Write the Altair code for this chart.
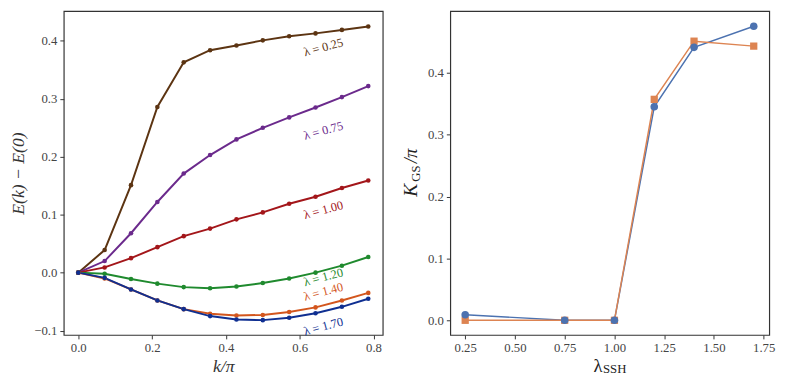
import altair as alt
import pandas as pd

# ---------------- data ----------------
k_vals = [0.0, 1/14, 2/14, 3/14, 4/14, 5/14, 6/14, 7/14, 8/14, 9/14, 10/14, 11/14]
series_names = ["λ = 0.25", "λ = 0.75", "λ = 1.00", "λ = 1.20", "λ = 1.40", "λ = 1.70"]
e_025 = [0.0, 0.039, 0.151, 0.286, 0.363, 0.384, 0.392, 0.401, 0.408, 0.413, 0.419, 0.425]
e_075 = [0.0, 0.020, 0.068, 0.122, 0.171, 0.203, 0.230, 0.250, 0.268, 0.285, 0.303, 0.322]
e_100 = [0.0, 0.009, 0.025, 0.044, 0.063, 0.076, 0.092, 0.104, 0.119, 0.131, 0.146, 0.159]
e_120 = [0.0, -0.002, -0.011, -0.019, -0.025, -0.027, -0.024, -0.018, -0.010, 0.000, 0.012, 0.027]
e_140 = [0.0, -0.010, -0.029, -0.048, -0.063, -0.071, -0.074, -0.073, -0.068, -0.060, -0.048, -0.035]
e_170 = [0.0, -0.009, -0.029, -0.048, -0.063, -0.075, -0.081, -0.082, -0.078, -0.070, -0.059, -0.045]
series_vals = [e_025, e_075, e_100, e_120, e_140, e_170]
series_colors = ["#5c3412", "#6b2a8c", "#a3161a", "#1f8a2e", "#d3561d", "#0f2f91"]
label_x = [0.664, 0.664, 0.664, 0.664, 0.664, 0.664]
label_y = [0.389, 0.245, 0.108, -0.008, -0.033, -0.093]

lam_ssh = [0.25, 0.75, 1.00, 1.20, 1.40, 1.70]
kgs_a = [0.009, 0.0, 0.0, 0.345, 0.441, 0.475]
kgs_b = [0.0, 0.0, 0.0, 0.357, 0.451, 0.443]
right_names = ["a", "b"]
right_colors = ["#4c72b0", "#dd8452"]

FONT = "Liberation Serif"

# ---------------- left panel ----------------
rows = []
for name, vals in zip(series_names, series_vals):
    for kk, v in zip(k_vals, vals):
        rows.append({"k": kk, "E": v, "s": name})
left_df = pd.DataFrame(rows)
lab_df = pd.DataFrame({"s": series_names, "x": label_x, "y": label_y})

cscale = alt.Scale(domain=series_names, range=series_colors)
xl = alt.X("k:Q", scale=alt.Scale(domain=[-0.0393, 0.8250], nice=False, zero=False),
           axis=alt.Axis(values=[0.0, 0.2, 0.4, 0.6, 0.8], format=".1f", title="k/π",
                         titleFontStyle="italic", titleFontSize=18, titlePadding=3))
yl = alt.Y("E:Q", scale=alt.Scale(domain=[-0.1076, 0.4515], nice=False, zero=False),
           axis=alt.Axis(values=[-0.1, 0.0, 0.1, 0.2, 0.3, 0.4], format=".1f", title="E(k) − E(0)",
                         titleFontStyle="italic", titleFontSize=18, titlePadding=7))

left_lines = alt.Chart(left_df).mark_line(strokeWidth=2).encode(
    x=xl, y=yl, color=alt.Color("s:N", scale=cscale, legend=None), detail="s:N")
left_pts = alt.Chart(left_df).mark_point(filled=True, size=22, opacity=1).encode(
    x="k:Q", y="E:Q", color=alt.Color("s:N", scale=cscale, legend=None))
left_labels = alt.Chart(lab_df).mark_text(font=FONT, fontSize=12.5, angle=345,
                                          align="center", baseline="middle").encode(
    x="x:Q", y="y:Q", text="s:N", color=alt.Color("s:N", scale=cscale, legend=None))

left = alt.layer(left_lines, left_pts, left_labels).properties(width=326, height=331)

# ---------------- right panel ----------------
rrows = []
for nm, vals in zip(right_names, [kgs_a, kgs_b]):
    for l, v in zip(lam_ssh, vals):
        rrows.append({"lam": l, "K": v, "g": nm})
right_df = pd.DataFrame(rrows)
rscale = alt.Scale(domain=right_names, range=right_colors)
xr = alt.X("lam:Q", scale=alt.Scale(domain=[0.175, 1.778], nice=False, zero=False),
           axis=alt.Axis(values=[0.25, 0.5, 0.75, 1.0, 1.25, 1.5, 1.75], format=".2f", title=None))
yr = alt.Y("K:Q", scale=alt.Scale(domain=[-0.0237, 0.4996], nice=False, zero=False),
           axis=alt.Axis(values=[0.0, 0.1, 0.2, 0.3, 0.4], format=".1f", title=None))

r_lines = alt.Chart(right_df).mark_line(strokeWidth=1.5).encode(
    x=xr, y=yr, color=alt.Color("g:N", scale=rscale, legend=None), detail="g:N")
r_circ = alt.Chart(right_df).transform_filter(alt.datum.g == "a").mark_point(
    shape="circle", filled=True, size=60, opacity=1).encode(
    x="lam:Q", y="K:Q", color=alt.Color("g:N", scale=rscale, legend=None))
r_sq = alt.Chart(right_df).transform_filter(alt.datum.g == "b").mark_point(
    shape="square", filled=True, size=55, opacity=1).encode(
    x="lam:Q", y="K:Q", color=alt.Color("g:N", scale=rscale, legend=None))

title_df = pd.DataFrame({"t": ["K", "GS", "/π", "λ", "SSH"]})
def piece(txt, px, py, size, style, angle):
    return alt.Chart(title_df).transform_filter(alt.datum.t == txt).mark_text(
        font=FONT, fontSize=size, fontStyle=style, angle=angle, align="center",
        baseline="middle", color="#222").encode(
        x=alt.value(px), y=alt.value(py), text="t:N")

r_titles = [
    piece("K", -40, 183, 20, "italic", 270),
    piece("GS", -35, 166, 13, "normal", 270),
    piece("/π", -40, 148, 19, "italic", 270),
    piece("λ", 151, 363, 19, "normal", 0),
    piece("SSH", 168, 366, 13, "normal", 0),
]

right = alt.layer(r_lines, r_sq, r_circ, *r_titles).properties(width=326, height=331)

chart = alt.hconcat(left, right, spacing=69, bounds="flush").resolve_scale(
    color="independent"
).properties(
    padding={"left": 0, "top": -2, "right": 5, "bottom": 5}
).configure_view(stroke="#333333", strokeWidth=1.2).configure_axis(
    domain=False, grid=False, ticks=True, tickSize=4, tickColor="#333333", tickWidth=1,
    labelFont=FONT, labelFontSize=13, labelColor="#444444", labelPadding=3,
    titleFont=FONT, titleColor="#333333", titleFontWeight="normal"
).configure_text(font=FONT)

chart.save("out.html", embed_options={"renderer": "svg", "actions": False})
